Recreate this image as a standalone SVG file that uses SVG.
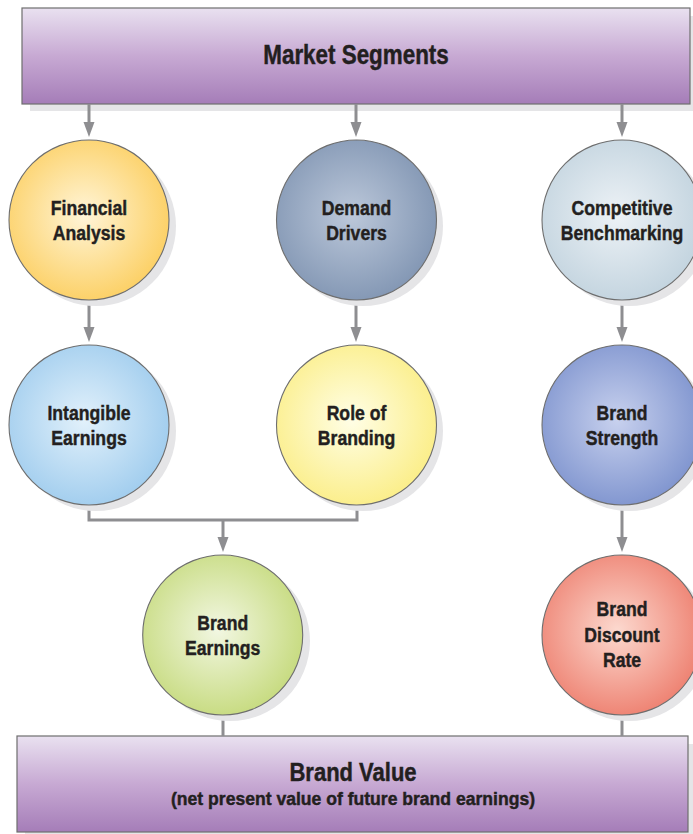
<svg xmlns="http://www.w3.org/2000/svg" width="693" height="834" viewBox="0 0 693 834">
<defs>
<linearGradient id="boxg" x1="0" y1="0" x2="0" y2="1">
<stop offset="0" stop-color="#e9e1f0"/>
<stop offset="0.5" stop-color="#c7a9d3"/>
<stop offset="1" stop-color="#a57db8"/>
</linearGradient>
<radialGradient id="gFin" cx="0.47" cy="0.47" r="0.55"><stop offset="0" stop-color="#fff5d8"/><stop offset="1" stop-color="#fcd065"/></radialGradient>
<radialGradient id="gDem" cx="0.47" cy="0.47" r="0.55"><stop offset="0" stop-color="#bcc8da"/><stop offset="1" stop-color="#8397b4"/></radialGradient>
<radialGradient id="gCom" cx="0.47" cy="0.47" r="0.55"><stop offset="0" stop-color="#edf2f6"/><stop offset="1" stop-color="#c3d4df"/></radialGradient>
<radialGradient id="gInt" cx="0.47" cy="0.47" r="0.55"><stop offset="0" stop-color="#e2f1fb"/><stop offset="1" stop-color="#a1cdee"/></radialGradient>
<radialGradient id="gRol" cx="0.47" cy="0.47" r="0.55"><stop offset="0" stop-color="#fffee6"/><stop offset="1" stop-color="#fbee89"/></radialGradient>
<radialGradient id="gStr" cx="0.47" cy="0.47" r="0.55"><stop offset="0" stop-color="#c8d1ee"/><stop offset="1" stop-color="#8095cf"/></radialGradient>
<radialGradient id="gEar" cx="0.47" cy="0.47" r="0.55"><stop offset="0" stop-color="#f2f7e2"/><stop offset="1" stop-color="#c7db80"/></radialGradient>
<radialGradient id="gDis" cx="0.47" cy="0.47" r="0.55"><stop offset="0" stop-color="#fcd9cf"/><stop offset="1" stop-color="#ee8272"/></radialGradient>
<style>
.box{fill:url(#boxg);stroke:#6e6e6e;stroke-width:1.2}
.shadow{fill:#e5e5e7}
.circ{stroke:#6e6e6e;stroke-width:1.1}
.conn{fill:none;stroke:#8e8e91;stroke-width:3}
.head{fill:#8e8e91}
.lbl{font-family:"Liberation Sans",Arial,sans-serif;font-weight:bold;fill:#231f20;stroke:#231f20;stroke-width:0.45;text-anchor:middle}
.node{font-size:21px}
</style>
</defs>

<g id="market-segments">
<rect class="shadow" x="30" y="16" width="663" height="95"/>
<rect class="box" x="22" y="8" width="668" height="96"/>
<text class="lbl" transform="translate(356,64) scale(0.83,1)" font-size="27">Market Segments</text>
</g>

<g id="brand-value">
<rect class="shadow" x="25" y="744" width="668" height="96"/>
<rect class="box" x="17" y="736" width="671" height="96"/>
<text class="lbl" transform="translate(353,781) scale(0.88,1)" font-size="25">Brand Value</text>
<text class="lbl" transform="translate(353,805) scale(0.95,1)" font-size="18.5">(net present value of future brand earnings)</text>
</g>

<g id="connectors">
<line class="conn" x1="89" y1="104" x2="89" y2="124"/>
<path class="head" d="M83.5,122 L94.5,122 L89,137 Z"/>
<line class="conn" x1="356" y1="104" x2="356" y2="124"/>
<path class="head" d="M350.5,122 L361.5,122 L356,137 Z"/>
<line class="conn" x1="622" y1="104" x2="622" y2="124"/>
<path class="head" d="M616.5,122 L627.5,122 L622,137 Z"/>

<line class="conn" x1="89" y1="300" x2="89" y2="329"/>
<path class="head" d="M83.5,327 L94.5,327 L89,342 Z"/>
<line class="conn" x1="356" y1="300" x2="356" y2="329"/>
<path class="head" d="M350.5,327 L361.5,327 L356,342 Z"/>
<line class="conn" x1="622" y1="300" x2="622" y2="329"/>
<path class="head" d="M616.5,327 L627.5,327 L622,342 Z"/>

<polyline class="conn" points="89,505 89,520 357,520 357,505"/>
<line class="conn" x1="223" y1="520" x2="223" y2="539"/>
<path class="head" d="M217.5,537 L228.5,537 L223,552 Z"/>
<line class="conn" x1="622" y1="505" x2="622" y2="539"/>
<path class="head" d="M616.5,537 L627.5,537 L622,552 Z"/>

<line class="conn" x1="223" y1="715" x2="223" y2="736"/>
<line class="conn" x1="622" y1="715" x2="622" y2="736"/>
</g>

<g id="financial-analysis">
<circle class="shadow" cx="96" cy="226" r="80"/>
<circle class="circ" cx="89" cy="220" r="80" fill="url(#gFin)"/>
<text class="lbl node" transform="translate(89,215) scale(0.84,1)">Financial</text>
<text class="lbl node" transform="translate(89,240) scale(0.84,1)">Analysis</text>
</g>

<g id="demand-drivers">
<circle class="shadow" cx="363" cy="226" r="80"/>
<circle class="circ" cx="356.5" cy="220" r="80" fill="url(#gDem)"/>
<text class="lbl node" transform="translate(356.5,215) scale(0.84,1)">Demand</text>
<text class="lbl node" transform="translate(356.5,240) scale(0.84,1)">Drivers</text>
</g>

<g id="competitive-benchmarking">
<circle class="shadow" cx="629" cy="226" r="80"/>
<circle class="circ" cx="622" cy="220" r="80" fill="url(#gCom)"/>
<text class="lbl node" transform="translate(622,215) scale(0.84,1)">Competitive</text>
<text class="lbl node" transform="translate(622,240) scale(0.84,1)">Benchmarking</text>
</g>

<g id="intangible-earnings">
<circle class="shadow" cx="96" cy="431" r="80"/>
<circle class="circ" cx="89" cy="425" r="80" fill="url(#gInt)"/>
<text class="lbl node" transform="translate(89,420) scale(0.84,1)">Intangible</text>
<text class="lbl node" transform="translate(89,445) scale(0.84,1)">Earnings</text>
</g>

<g id="role-of-branding">
<circle class="shadow" cx="363" cy="431" r="80"/>
<circle class="circ" cx="356.5" cy="425" r="80" fill="url(#gRol)"/>
<text class="lbl node" transform="translate(356.5,420) scale(0.84,1)">Role of</text>
<text class="lbl node" transform="translate(356.5,445) scale(0.84,1)">Branding</text>
</g>

<g id="brand-strength">
<circle class="shadow" cx="629" cy="431" r="80"/>
<circle class="circ" cx="622" cy="425" r="80" fill="url(#gStr)"/>
<text class="lbl node" transform="translate(622,420) scale(0.84,1)">Brand</text>
<text class="lbl node" transform="translate(622,445) scale(0.84,1)">Strength</text>
</g>

<g id="brand-earnings">
<circle class="shadow" cx="230" cy="641" r="80"/>
<circle class="circ" cx="222.7" cy="635" r="80" fill="url(#gEar)"/>
<text class="lbl node" transform="translate(222.7,630) scale(0.84,1)">Brand</text>
<text class="lbl node" transform="translate(222.7,655) scale(0.84,1)">Earnings</text>
</g>

<g id="brand-discount-rate">
<circle class="shadow" cx="629" cy="641" r="80"/>
<circle class="circ" cx="622" cy="635" r="80" fill="url(#gDis)"/>
<text class="lbl node" transform="translate(622,616) scale(0.84,1)">Brand</text>
<text class="lbl node" transform="translate(622,641.5) scale(0.84,1)">Discount</text>
<text class="lbl node" transform="translate(622,667) scale(0.84,1)">Rate</text>
</g>
</svg>
